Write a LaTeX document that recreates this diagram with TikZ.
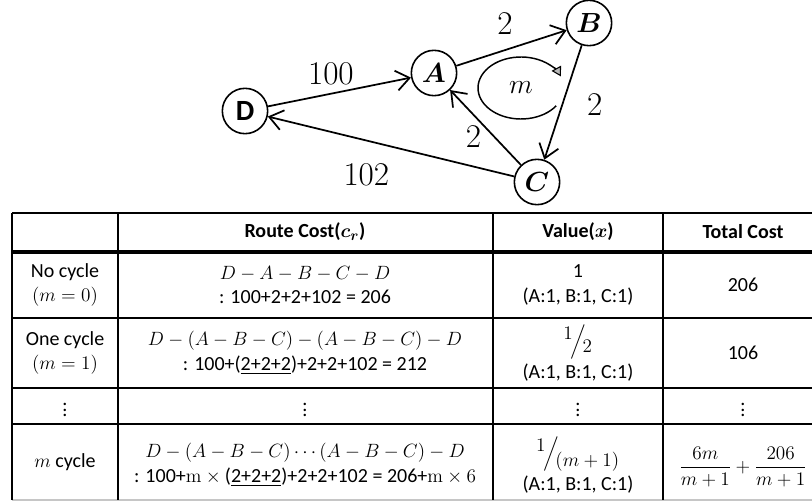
\documentclass[tikz,border=0pt]{standalone}
\usepackage{amsmath}
\usepackage{bm}
\usepackage[no-math]{fontspec}
\setmainfont{Carlito}
\usetikzlibrary{arrows.meta,positioning,calc}
% math set a little smaller than the surrounding text
\newcommand{\mth}[1]{{\fontsize{14}{16}\selectfont$#1$}}

\begin{document}
\begin{tikzpicture}[x=0.75pt,y=-0.75pt,
  vertex/.style={circle,draw,line width=1.2pt,minimum size=34pt,inner sep=0pt},
  link/.style={line width=1.3pt,-{Straight Barb[length=10pt,width=15pt,line width=1.3pt]}},
  wlabel/.style={font=\fontsize{23}{24}\selectfont,inner sep=1pt},
  gridline/.style={line width=1.1pt},
  cell/.style={align=center,font=\fontsize{15}{18.5}\selectfont,inner sep=0pt}]

\useasboundingbox (0,0) rectangle (812,502);

% ---- network ----
\node[vertex,font=\fontsize{22}{24}\selectfont\bfseries] (D) at (245,111) {D};
\node[vertex,font=\fontsize{21}{24}\selectfont] (A) at (434,73) {$\bm{A}$};
\node[vertex,font=\fontsize{21}{24}\selectfont] (B) at (589,23) {$\bm{B}$};
\node[vertex,font=\fontsize{21}{24}\selectfont] (C) at (537,182) {$\bm{C}$};

\draw[link] (D) -- node[wlabel,pos=0.44,above=5pt] {$100$} (A);
\draw[link] (A) -- node[wlabel,pos=0.44,above=10pt] {$2$} (B);
\draw[link] (B) -- node[wlabel,pos=0.52,right=17pt] {$2$} (C);
\draw[link] (C) -- node[wlabel,pos=0.38,left=8pt] {$2$} (A);
\draw[link] (C) -- node[wlabel,pos=0.6,below=16pt] {$102$} (D);

% cycle marker
\coordinate (loopc) at (521,88);
\draw[line width=1.1pt,-{Triangle[length=7pt,width=8pt,fill=gray!55,line width=0.8pt]}]
  ($(loopc)+(35:43 and 31)$) arc[start angle=35,end angle=338,x radius=43,y radius=31];
\node[font=\fontsize{22}{24}\selectfont] (mlab) at (loopc) {$m$};

% ---- table grid ----
\foreach \yy in {213,318,388,424}
  \draw[gridline] (12,\yy) -- (812,\yy);
\draw[line width=3pt] (12,252) -- (812,252);
\draw[gridline,gray!45] (12,500) -- (812,500);
\foreach \xx in {12,118,493,663}
  \draw[gridline] (\xx,213) -- (\xx,500);

% header
\node[cell] (h2) at (305,232) {\textbf{Route Cost($\bm{c_r}$)}};
\node[cell] (h3) at (578,232) {\textbf{Value($\bm{x}$)}};
\node[cell] (h4) at (743,232) {\textbf{Total Cost}};

% no cycle
\node[cell] (r1a) at (65,285) {No cycle\\\mth{(m=0)}};
\node[cell] (r1b) at (305,285) {\mth{D-A-B-C-D}\\: 100+2+2+102 = 206};
\node[cell] (r1c) at (578,285) {1\\(A:1, B:1, C:1)};
\node[cell] (r1d) at (743,285) {206};

% one cycle
\node[cell] (r2a) at (65,353) {One cycle\\\mth{(m=1)}};
\node[cell] (r2b) at (305,353) {\mth{D-(A-B-C)-(A-B-C)-D}\\: 100+(\underline{2+2+2})+2+2+102 = 212};
\node[cell] (r2c) at (578,353) {${}^{\textstyle 1}\!\Big/\!{}_{\textstyle 2}$\\[3pt](A:1, B:1, C:1)};
\node[cell] (r2d) at (743,353) {106};

% dots
\node[cell] (r3a) at (65,406) {$\vdots$};
\node[cell] (r3b) at (305,406) {$\vdots$};
\node[cell] (r3c) at (578,406) {$\vdots$};
\node[cell] (r3d) at (743,406) {$\vdots$};

% m cycles
\node[cell] (r4a) at (65,462) {\mth{m} cycle};
\node[cell] (r4b) at (305,465) {\mth{D-(A-B-C)\cdots(A-B-C)-D}\\: 100+\mth{\mathrm{m}\times{}}(\underline{2+2+2})+2+2+102 = 206+\mth{\mathrm{m}\times 6}};
\node[cell] (r4c) at (578,465) {${}^{\textstyle 1}\!\Big/\!{}_{\textstyle (m+1)}$\\[3pt](A:1, B:1, C:1)};
\node[cell] (r4d) at (743,467) {\mth{\dfrac{6m}{m+1}+\dfrac{206}{m+1}}};
\end{tikzpicture}
\end{document}
